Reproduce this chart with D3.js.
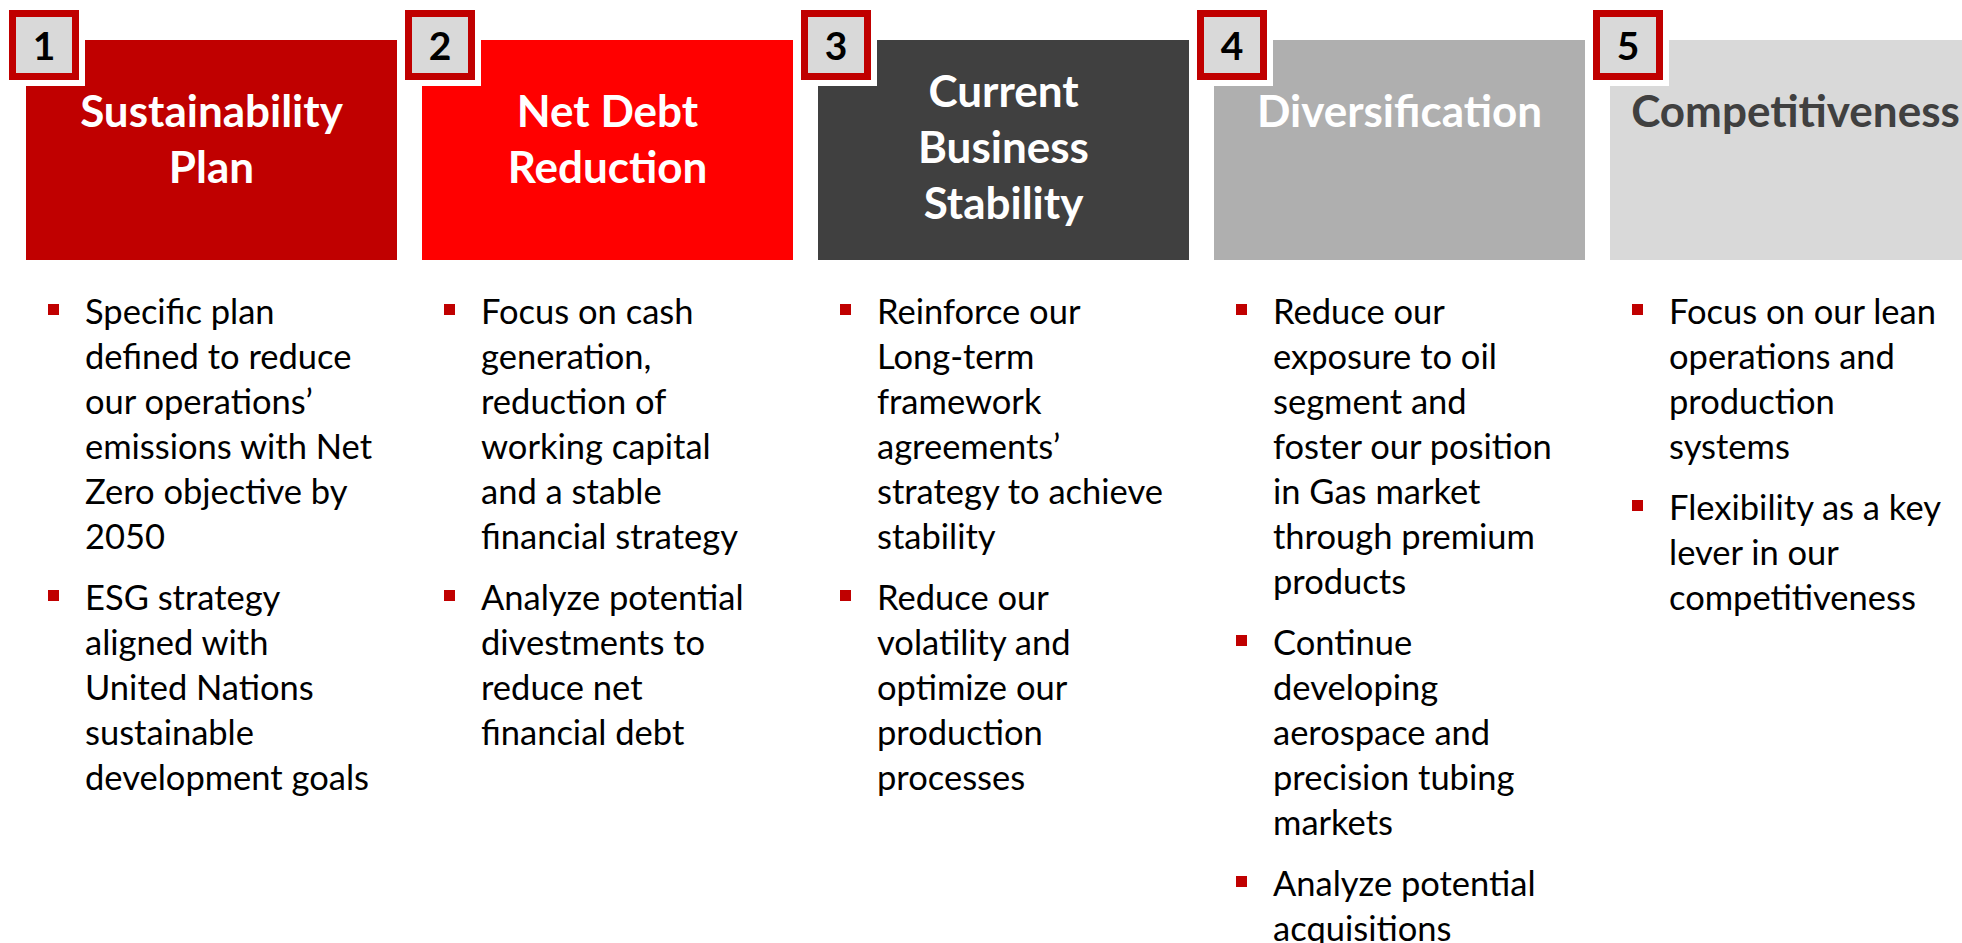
<!DOCTYPE html>
<html>
<head>
<meta charset="utf-8">
<script src="https://cdnjs.cloudflare.com/ajax/libs/d3/7.8.5/d3.min.js"></script>
<style>
	html, body { margin: 0; padding: 0; background: #fff; overflow: hidden; }
	svg { display: block; }
	.title { font-family: Lato, "Open Sans", sans-serif; font-weight: 700; text-anchor: middle; }
	.num { font-family: Lato, "Open Sans", sans-serif; font-weight: 700; text-anchor: middle; }
	.item { font-family: Lato, "Open Sans", sans-serif; font-weight: 400; fill: #000; }
</style>
</head>
<body>
<div id="chart"></div>
<script>
var steps = [1, 2, 3, 4, 5];

var titles = [
	["Sustainability", "Plan"],
	["Net Debt", "Reduction"],
	["Current", "Business", "Stability"],
	["Diversification"],
	["Competitiveness"]
];

var headerColors = ["#C00000", "#FF0000", "#404040", "#AFAFAF", "#D9D9D9"];
var titleColors = ["#FFFFFF", "#FFFFFF", "#FFFFFF", "#FFFFFF", "#404040"];

var bullets = [
	[
		["Specific plan", "defined to reduce", "our operations’", "emissions with Net", "Zero objective by", "2050"],
		["ESG strategy", "aligned with", "United Nations", "sustainable", "development goals"]
	],
	[
		["Focus on cash", "generation,", "reduction of", "working capital", "and a stable", "financial strategy"],
		["Analyze potential", "divestments to", "reduce net", "financial debt"]
	],
	[
		["Reinforce our", "Long-term", "framework", "agreements’", "strategy to achieve", "stability"],
		["Reduce our", "volatility and", "optimize our", "production", "processes"]
	],
	[
		["Reduce our", "exposure to oil", "segment and", "foster our position", "in Gas market", "through premium", "products"],
		["Continue", "developing", "aerospace and", "precision tubing", "markets"],
		["Analyze potential", "acquisitions"]
	],
	[
		["Focus on our lean", "operations and", "production", "systems"],
		["Flexibility as a key", "lever in our", "competitiveness"]
	]
];

var width = 1962, height = 943;
var headerTop = 40, headerH = 220;
var lineH = 45, paraGap = 16, firstBase = 324;

var svg = d3.select("#chart")
	.append("svg")
		.attr("width", width)
		.attr("height", height);

var x = d3.scaleBand()
	.domain(steps)
	.range([26, 1981])
	.paddingInner(25 / 396)
	.paddingOuter(0);

var col = svg.selectAll(".col")
	.data(steps)
	.enter()
	.append("g")
		.attr("class", "col")
		.attr("transform", function(d) { return "translate(" + x(d) + ",0)"; });

// header boxes
col.append("rect")
	.attr("x", 0)
	.attr("y", headerTop)
	.attr("width", x.bandwidth())
	.attr("height", headerH)
	.attr("fill", function(d, i) { return headerColors[i]; });

// header titles
col.each(function(d, i) {
	var lines = titles[i];
	var base = lines.length > 2 ? 107 : 127;
	d3.select(this).append("text")
		.attr("class", "title")
		.attr("fill", titleColors[i])
		.style("font-size", "44px")
		.selectAll("tspan")
		.data(lines)
		.enter()
		.append("tspan")
			.attr("x", x.bandwidth() / 2)
			.attr("y", function(l, j) { return base + j * 56; })
			.text(function(l) { return l; });
});

// number badges
col.append("rect")
	.attr("x", -22)
	.attr("y", 5)
	.attr("width", 81)
	.attr("height", 81)
	.attr("fill", "#fff");

col.append("rect")
	.attr("x", -17 + 3.5)
	.attr("y", 10 + 3.5)
	.attr("width", 63)
	.attr("height", 63)
	.attr("fill", "#D9D9D9")
	.attr("stroke", "#C00000")
	.attr("stroke-width", 7);

col.append("text")
	.attr("class", "num")
	.attr("x", 18)
	.attr("y", 60)
	.style("font-size", "39px")
	.attr("fill", "#000")
	.text(function(d) { return d; });

// bullet lists
col.each(function(d, i) {
	var g = d3.select(this);
	var y = firstBase;
	bullets[i].forEach(function(para) {
		g.append("rect")
			.attr("x", 22)
			.attr("y", y - 20)
			.attr("width", 11)
			.attr("height", 11)
			.attr("fill", "#C00000");
		var t = g.append("text")
			.attr("class", "item")
			.style("font-size", "34.5px");
		t.selectAll("tspan")
			.data(para)
			.enter()
			.append("tspan")
				.attr("x", 59)
				.attr("y", function(l, j) { return y + j * lineH; })
				.text(function(l) { return l; });
		y += para.length * lineH + paraGap;
	});
});
</script>
</body>
</html>
